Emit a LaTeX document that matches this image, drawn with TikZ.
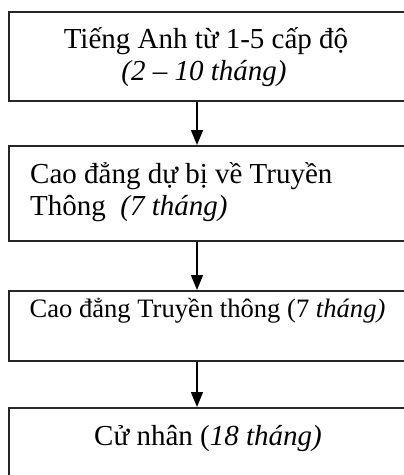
\documentclass[tikz,border=0pt]{standalone}
\usepackage{fontspec}
\setmainfont{Liberation Serif}
\usetikzlibrary{arrows.meta}
\begin{document}
\begin{tikzpicture}[x=1pt,y=1pt,
  box/.style={draw=black!85, line width=2pt, rectangle, anchor=north west, inner sep=0pt, minimum width=398pt},
  txt/.style={inner sep=0pt, font=\fontsize{29}{32}\selectfont},
  smalltxt/.style={inner sep=0pt, font=\fontsize{26.6}{30}\selectfont},
  arr/.style={line width=1.5pt, -{Triangle[length=15pt,width=12pt]}}]
\useasboundingbox (0,0) rectangle (404,-475);
\fill[white] (0,0) rectangle (404,-475);
\coordinate (ax) at (197,0);
\node[box, minimum height=89pt] (b1) at (8,-11) {};
\node[box, minimum height=95pt] (b2) at (8,-145) {};
\node[box, minimum height=70pt] (b3) at (8,-290) {};
\node[box, minimum height=82pt] (b4) at (8,-407) {};
\node[txt, anchor=base] (t1a) at (206,-48) {Tiếng Anh từ 1-5 cấp độ};
\node[txt, anchor=base] (t1b) at (204,-80) {\itshape (2 – 10 tháng)};
\node[txt, anchor=base west] (t2a) at (30,-183) {Cao đẳng dự bị về Truyền};
\node[txt, anchor=base west] (t2b) at (30,-215) {Thông\ \ \textit{(7 tháng)}};
\node[smalltxt, anchor=base] (t3) at (207.5,-317) {Cao đẳng Truyền thông (7 \textit{tháng)}};
\node[txt, anchor=base] (t4) at (208,-445) {Cử nhân (\textit{18 tháng)}};
\draw[arr] (b1.south -| ax) -- (b2.north -| ax);
\draw[arr] (b2.south -| ax) -- (b3.north -| ax);
\draw[arr] (b3.south -| ax) -- (b4.north -| ax);
\end{tikzpicture}
\end{document}
